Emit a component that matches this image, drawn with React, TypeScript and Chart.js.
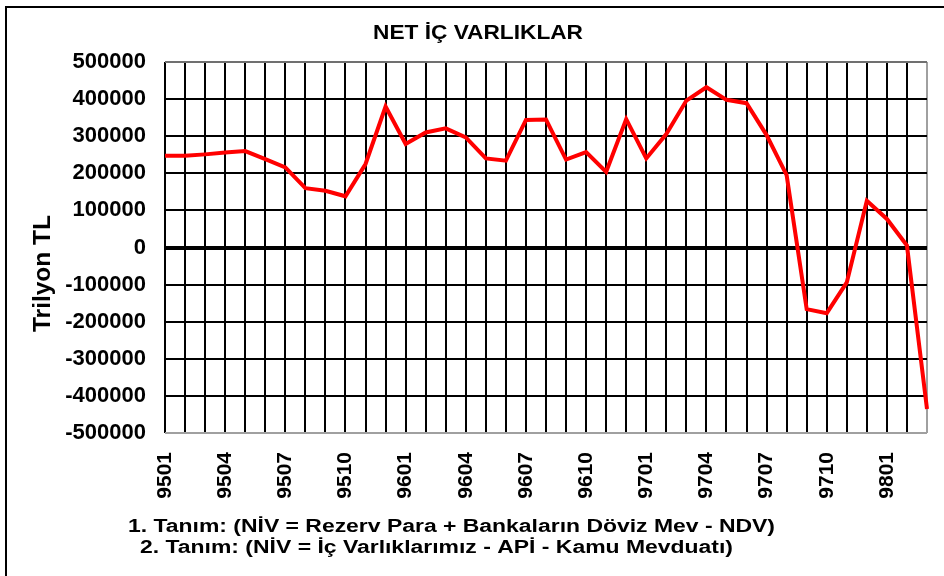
import React, { useEffect, useRef } from "react";
import { Chart, registerables } from "chart.js";

Chart.register(...registerables);

const TITLE = "NET İÇ VARLIKLAR";
const Y_TITLE = "Trilyon TL";
const NOTE_1 = "1. Tanım: (NİV = Rezerv Para + Bankaların Döviz Mev - NDV)";
const NOTE_2 = "2. Tanım: (NİV = İç Varlıklarımız - APİ - Kamu Mevduatı)";

const months = [
  "9501", "9502", "9503", "9504", "9505", "9506", "9507", "9508", "9509", "9510", "9511", "9512",
  "9601", "9602", "9603", "9604", "9605", "9606", "9607", "9608", "9609", "9610", "9611", "9612",
  "9701", "9702", "9703", "9704", "9705", "9706", "9707", "9708", "9709", "9710", "9711", "9712",
  "9801", "9802", "9803",
];

const netIcVarliklar = [
  247000, 247000, 251000, 256000, 260000, 238000, 216000, 160000, 153000, 138000, 225000, 380000,
  279000, 310000, 321000, 297000, 240000, 234000, 344000, 345000, 237000, 257000, 204000, 346000,
  240000, 306000, 396000, 432000, 398000, 389000, 303000, 195000, -166000, -177000, -94000, 126000,
  77000, 5000, -435000,
];

const yMin = -500000;
const yMax = 500000;
const yStep = 100000;
const labelEvery = 3;

const FONT = "'Liberation Sans', Arial, sans-serif";

function fitText(ctx: CanvasRenderingContext2D, text: string, x: number, y: number, w: number, size: number, rot = 0) {
  ctx.save();
  ctx.font = `bold ${size}px ${FONT}`;
  ctx.textAlign = "left";
  ctx.textBaseline = "alphabetic";
  ctx.fillStyle = "#000";
  const m = ctx.measureText(text).width;
  ctx.translate(x, y);
  if (rot) ctx.rotate(rot);
  ctx.scale(w / m, 1);
  ctx.fillText(text, 0, 0);
  ctx.restore();
}

const decor = {
  id: "decor",
  beforeDraw(chart: any) {
    const ctx = chart.ctx;
    ctx.save();
    ctx.fillStyle = "#fff";
    ctx.fillRect(0, 0, chart.width, chart.height);
    ctx.restore();
  },
  afterDraw(chart: any) {
    const ctx = chart.ctx;
    ctx.save();
    ctx.fillStyle = "#000";
    ctx.fillRect(5, 6, 2, chart.height - 6);
    ctx.fillRect(5, 6, chart.width - 5, 2);
    ctx.restore();
    fitText(ctx, TITLE, 373, 39, 210, 21);
    fitText(ctx, Y_TITLE, 50, 332, 117, 23, -Math.PI / 2);
    fitText(ctx, NOTE_1, 128, 532, 647, 18);
    fitText(ctx, NOTE_2, 140, 553, 593, 18);
  },
};

export default function App() {
  const ref = useRef<HTMLCanvasElement>(null);
  useEffect(() => {
    if (!ref.current) return;
    const chart = new Chart(ref.current, {
      type: "line",
      data: {
        labels: months,
        datasets: [
          {
            data: netIcVarliklar,
            borderColor: "#ff0000",
            borderWidth: 4,
            pointRadius: 0,
            tension: 0,
            fill: false,
          },
        ],
      },
      options: {
        animation: false,
        responsive: false,
        devicePixelRatio: 1,
        layout: { padding: { left: 0, top: 62, right: 17, bottom: 0 } },
        plugins: { legend: { display: false }, title: { display: false }, tooltip: { enabled: false } },
        scales: {
          x: {
            type: "category",
            offset: false,
            border: { display: false },
            grid: {
              drawTicks: false,
              lineWidth: 2,
              color: (c: any) => (c.index === months.length - 1 ? "#a0a0a0" : "#000"),
            },
            ticks: {
              autoSkip: false,
              maxRotation: 90,
              minRotation: 90,
              padding: 19,
              color: "#000",
              font: { family: FONT, size: 21, weight: "bold" },
              callback: (_v: any, i: number) => (i % labelEvery === 0 ? months[i] : ""),
            },
            afterFit: (s: any) => {
              s.height = 143;
              s.paddingLeft = 0;
              s.paddingRight = 0;
            },
          },
          y: {
            min: yMin,
            max: yMax,
            border: { display: false },
            grid: {
              drawTicks: false,
              color: (c: any) =>
                c.tick && c.tick.value === yMin ? "#a0a0a0" : c.tick && c.tick.value === yMax ? "#707070" : "#000",
              lineWidth: (c: any) => (c.tick && c.tick.value === 0 ? 4 : 2),
            },
            ticks: {
              stepSize: yStep,
              padding: 19,
              color: "#000",
              font: { family: FONT, size: 22, weight: "bold" },
              callback: (v: any) => String(v),
            },
            afterFit: (s: any) => {
              s.width = 165;
              s.paddingTop = 0;
              s.paddingBottom = 0;
            },
          },
        },
      },
      plugins: [decor],
    });
    return () => chart.destroy();
  }, []);
  return (
    <div style={{ position: "fixed", left: 0, top: 0, width: 944, height: 576, background: "#fff" }}>
      <canvas ref={ref} width={944} height={576} style={{ width: 944, height: 576, display: "block" }} />
    </div>
  );
}
